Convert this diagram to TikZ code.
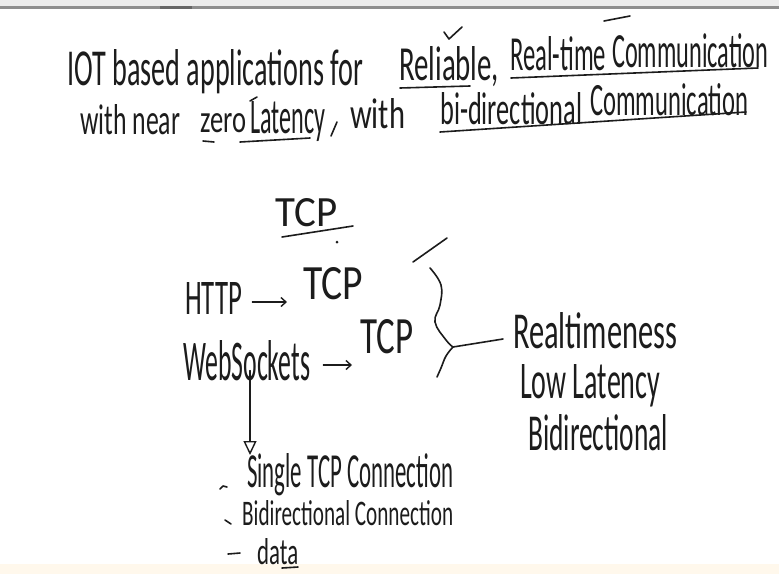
\documentclass[tikz,border=0pt]{standalone}
\usepackage{fontspec}
\setmainfont{Carlito}
\usepackage{graphicx}
\usetikzlibrary{arrows.meta}
% fit a line of text into a box: width, height above baseline, text
\newcommand\hand[3]{\resizebox{#1pt}{#2pt}{\fontsize{40}{44}\selectfont #3}}
\definecolor{inkc}{HTML}{1C1C1C}
\definecolor{barlight}{HTML}{ECECEC}
\definecolor{bardark}{HTML}{8E8E8E}
\definecolor{footband}{HTML}{FFF8EC}
\begin{document}
\begin{tikzpicture}[x=1pt,y=-1pt,
  hw/.style={anchor=base west, inner sep=0pt, text=inkc},
  pen/.style={draw=inkc, line width=1.6pt, line cap=round, line join=round},
  barb/.style={-{Straight Barb[length=5pt,width=9pt,line width=1.4pt]}},
  hollow/.style={-{Triangle[open,length=14pt,width=13pt,line width=1.4pt]}}]
\useasboundingbox (0,0) rectangle (779,574);
\fill[white] (0,0) rectangle (779,574);
\fill[barlight] (0,0) rectangle (779,6);
\fill[bardark] (0,6) rectangle (779,8.5);
\fill[black!60] (160,5.5) rectangle (192,8.5);
\fill[footband] (0,564) rectangle (779,574);

% heading, first line
\node[hw] (l1a) at (67,85) {\hand{296}{36}{IOT based applications for}};
\node[hw] (l1b) at (399,80) {\hand{100}{34}{Reliable,}};
\node[hw] (l1c) at (510,70) {\hand{96}{34}{Real-time}};
\node[hw] (l1d) at (612,67) {\hand{156}{34}{Communication}};
\draw[pen] (400,88) -- (470,86);
\draw[pen] (444,32) -- (449,39) -- (462,27);
\draw[pen] (604,21) -- (630,16);
\draw[pen] (511,78) -- (758,68);

% heading, second line
\node[hw] (l2a) at (80,134) {\hand{100}{30}{with near}};
\node[hw] (l2b) at (200,132) {\hand{46}{19}{zero}};
\node[hw] (l2c) at (250,133) {\hand{75}{32}{Latency}};
\node[hw] (l2e) at (350,128) {\hand{55}{30}{with}};
\node[hw] (l2f) at (440,124) {\hand{142}{32}{bi-directional}};
\node[hw] (l2g) at (590,115) {\hand{158}{32}{Communication}};
\draw[pen] (337,122) -- (331,136);
\draw[pen] (203,141) -- (214,142);
\draw[pen] (240,142) -- (310,138);
\draw[pen] (250,101) -- (257,97);
\draw[pen] (440,132) -- (746,112);

% protocol stack
\node[hw] (tcph) at (275,226) {\hand{62}{28}{TCP}};
\draw[pen] (282,237) -- (353,226);
\fill[inkc] (337,242) circle (1.5);

\node[hw] (http) at (185,314) {\hand{57}{32}{HTTP}};
\node[hw] (tcp1) at (303,299) {\hand{60}{32}{TCP}};
\draw[pen,barb] ([shift={(10,-12)}]http.base east) -- ([shift={(-16,-12)}]http.base east -| tcp1.base west);

\node[hw] (ws) at (183,380) {\hand{127}{40}{WebSockets}};
\node[hw] (tcp2) at (360,353) {\hand{53}{34}{TCP}};
\draw[pen,barb] ([shift={(13,-15)}]ws.base east) -- ([shift={(-8,-15)}]ws.base east -| tcp2.base west);

% grouping brace and its label
\draw[pen] (413,262) -- (447,238);
\draw[pen] plot[smooth,tension=0.7] coordinates {(430,268) (441,285) (440,305) (435,322) (446,340) (453,347)};
\draw[pen] plot[smooth,tension=0.7] coordinates {(453,347) (446,356) (441,368) (437,377)};
\coordinate (bt) at (453,347);
\node[hw] (rt) at (513,348) {\hand{164}{36}{Realtimeness}};
\draw[pen] (bt) -- ([shift={(-10,-9)}]rt.base west);
\node[hw] (ll) at (520,398) {\hand{140}{34}{Low Latency}};
\node[hw] (bd) at (528,450) {\hand{140}{36}{Bidirectional}};

% WebSockets properties
\coordinate (dn) at (250,455);
\draw[pen,hollow] ([yshift=10]ws.south -| dn) -- (dn);
\node[hw] (sc) at (247,487) {\hand{206}{34}{Single TCP Connection}};
\node[hw] (bc) at (242,525) {\hand{211}{25}{Bidirectional Connection}};
\node[hw] (dt) at (257,564) {\hand{41}{26}{data}};
\draw[pen] (220,489) -- (223,486) -- (227,487);
\draw[pen] (225,520) -- (231,524);
\draw[pen] (228,554) -- (240,553);
\draw[pen] (282,568) -- (298,567);
\end{tikzpicture}
\end{document}
